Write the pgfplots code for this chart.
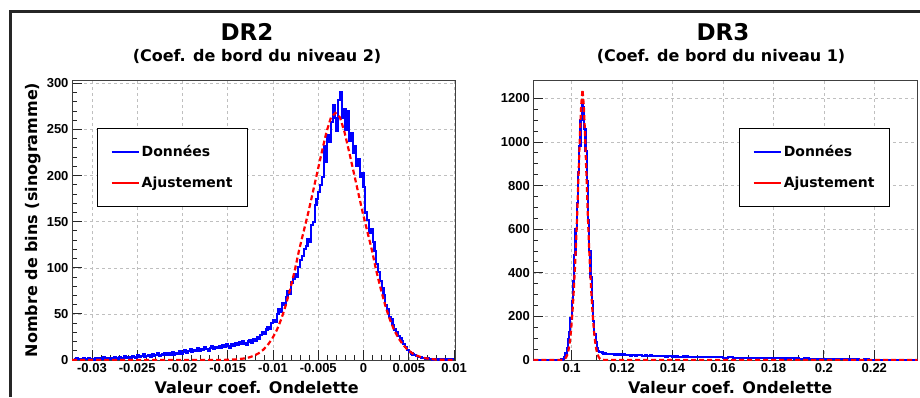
\documentclass[border=0pt]{standalone}
\usepackage{pgfplots}
\pgfplotsset{compat=1.18}
\usepackage{fontspec}
\setmainfont{DejaVu Sans}
\newfontfamily\arialfont{Liberation Sans}

\newcommand\ticksfont{\arialfont\bfseries\fontsize{13}{13}\selectfont}
\newcommand\labfont{\bfseries\fontsize{16}{16}\selectfont}
\newcommand\legfont{\bfseries\fontsize{14}{14}\selectfont}

\pgfplotsset{
  rootaxis/.style={
    scale only axis,
    anchor=south west,
    ymin=0,
    scaled ticks=false,
    axis line style={black!75, line width=0.8pt},
    tick style={black!85, line width=0.8pt},
    tick align=inside,
    xtick pos=bottom, ytick pos=left,
    major tick length=10pt, minor tick length=5pt,
    grid=major,
    major grid style={black!25, line width=0.5pt, dash pattern=on 3pt off 3pt},
    ticklabel style={font=\ticksfont},
    xlabel style={font=\labfont},
    ylabel style={font=\labfont},
    legend cell align=left,
    legend style={draw=black, line width=1.2pt, font=\legfont,
      inner xsep=13pt, inner ysep=15pt, row sep=15pt, anchor=north west},
    legend image code/.code={\draw[#1, line width=2.2pt, solid] (0pt,0pt) -- (27pt,0pt);},
  },
  data/.style={const plot, blue, line width=2.2pt},
  fit/.style={red, line width=2.2pt, dash pattern=on 5pt off 3pt},
}

\begin{document}
\begin{tikzpicture}
\useasboundingbox (0pt,0pt) rectangle (920pt,397pt);
\draw[line width=3pt, black!85] (10.5pt,0pt) -- (10.5pt,385.5pt) -- (920pt,385.5pt);

\node[font=\bfseries\fontsize{23}{23}\selectfont] at (247pt,365pt) {DR2};
\node[font=\bfseries\fontsize{16}{16}\selectfont] at (257pt,341pt) {(Coef. de bord du niveau 2)};
\node[font=\bfseries\fontsize{23}{23}\selectfont] at (723pt,365pt) {DR3};
\node[font=\bfseries\fontsize{16}{16}\selectfont] at (721pt,341pt) {(Coef. de bord du niveau 1)};

% ---- DR2 ----
\begin{axis}[rootaxis,
  at={(72pt,37pt)}, width=383pt, height=280pt,
  xmin=-0.0322, xmax=0.0101, ymax=303.6,
  xtick={-0.03,-0.025,-0.02,-0.015,-0.01,-0.005,0,0.005,0.01},
  xticklabels={-0.03,-0.025,-0.02,-0.015,-0.01,-0.005,0,0.005,0.01},
  ytick={0,50,100,150,200,250,300},
  yticklabels={0,50,100,150,200,250,300},
  minor x tick num=4, minor y tick num=4,
  xlabel={Valeur coef. Ondelette},
  ylabel={Nombre de bins (sinogramme)},
  xlabel style={at={(axis description cs:0.482,-0.1)}, anchor=center},
  ylabel style={at={(axis description cs:-0.102,0.5)}, anchor=center},
  legend style={at={(0.065,0.829)}},
]
\addplot[data] coordinates {
(-0.0320,1) (-0.0318,2) (-0.0316,1) (-0.0314,1) (-0.0312,0) (-0.0310,2) (-0.0308,1) (-0.0306,1) (-0.0304,2) (-0.0302,1)
(-0.0300,1) (-0.0298,0) (-0.0296,2) (-0.0294,1) (-0.0292,2) (-0.0290,1) (-0.0288,3) (-0.0286,1) (-0.0284,2) (-0.0282,1)
(-0.0280,2) (-0.0278,1) (-0.0276,3) (-0.0274,2) (-0.0272,1) (-0.0270,3) (-0.0268,2) (-0.0266,2) (-0.0264,4) (-0.0262,2)
(-0.0260,3) (-0.0258,2) (-0.0256,4) (-0.0254,3) (-0.0252,2) (-0.0250,5) (-0.0248,3) (-0.0246,4) (-0.0244,6) (-0.0242,3)
(-0.0240,4) (-0.0238,5) (-0.0236,3) (-0.0234,6) (-0.0232,4) (-0.0230,5) (-0.0228,7) (-0.0226,4) (-0.0224,5) (-0.0222,6)
(-0.0220,8) (-0.0218,5) (-0.0216,7) (-0.0214,6) (-0.0212,9) (-0.0210,6) (-0.0208,8) (-0.0206,7) (-0.0204,10) (-0.0202,7)
(-0.0200,9) (-0.0198,11) (-0.0196,8) (-0.0194,10) (-0.0192,12) (-0.0190,9) (-0.0188,11) (-0.0186,10) (-0.0184,13) (-0.0182,10)
(-0.0180,12) (-0.0178,11) (-0.0176,14) (-0.0174,12) (-0.0172,10) (-0.0170,13) (-0.0168,15) (-0.0166,12) (-0.0164,14) (-0.0162,13)
(-0.0160,15) (-0.0158,13) (-0.0156,16) (-0.0154,14) (-0.0152,17) (-0.0150,15) (-0.0148,13) (-0.0146,17) (-0.0144,15) (-0.0142,18)
(-0.0140,16) (-0.0138,19) (-0.0136,17) (-0.0134,20) (-0.0132,18) (-0.0130,16) (-0.0128,20) (-0.0126,22) (-0.0124,19) (-0.0122,23)
(-0.0120,21) (-0.0118,25) (-0.0116,23) (-0.0114,27) (-0.0112,30) (-0.0110,28) (-0.0108,33) (-0.0106,36) (-0.0104,34) (-0.0102,40)
(-0.0100,43) (-0.0098,41) (-0.0096,50) (-0.0094,55) (-0.0092,52) (-0.0090,62) (-0.0088,60) (-0.0086,68) (-0.0084,75) (-0.0082,72)
(-0.0080,84) (-0.0078,88) (-0.0076,93) (-0.0074,90) (-0.0072,101) (-0.0070,108) (-0.0068,113) (-0.0066,120) (-0.0064,124) (-0.0062,131)
(-0.0060,128) (-0.0058,146) (-0.0056,150) (-0.0054,168) (-0.0052,175) (-0.0050,182) (-0.0048,190) (-0.0046,198) (-0.0044,232) (-0.0042,215)
(-0.0040,244) (-0.0038,236) (-0.0036,258) (-0.0034,276) (-0.0032,262) (-0.0030,248) (-0.0028,282) (-0.0026,290) (-0.0024,263) (-0.0022,272)
(-0.0020,250) (-0.0018,270) (-0.0016,238) (-0.0014,246) (-0.0012,225) (-0.0010,232) (-0.0008,210) (-0.0006,218) (-0.0004,198) (-0.0002,203)
(0.0000,188) (0.0002,160) (0.0004,152) (0.0006,138) (0.0008,142) (0.0010,128) (0.0012,118) (0.0014,104) (0.0016,95) (0.0018,86)
(0.0020,78) (0.0022,70) (0.0024,60) (0.0026,55) (0.0028,47) (0.0030,44) (0.0032,38) (0.0034,33) (0.0036,30) (0.0038,26)
(0.0040,24) (0.0042,20) (0.0044,17) (0.0046,14) (0.0048,11) (0.0050,9) (0.0052,7) (0.0054,6) (0.0056,5) (0.0058,4)
(0.0060,3) (0.0062,3) (0.0064,2) (0.0066,2) (0.0068,1) (0.0070,2) (0.0072,1) (0.0074,1) (0.0076,0) (0.0078,1)
(0.0080,1) (0.0082,0) (0.0084,1) (0.0086,1) (0.0088,0) (0.0090,1) (0.0092,0) (0.0094,1) (0.0096,0) (0.0098,1) (0.0100,1)
};
\addlegendentry{Données}
\addplot[fit] coordinates {
(-0.0322,0) (-0.0200,0) (-0.0161,0.05) (-0.0151,0.2) (-0.0141,0.6) (-0.0131,1.8) (-0.0126,2.9) (-0.0121,4.7)
(-0.0116,7.2) (-0.0111,10.9) (-0.0106,16) (-0.0101,23) (-0.0096,32) (-0.0091,44) (-0.0086,59) (-0.0081,77)
(-0.0076,97) (-0.0071,120) (-0.0066,140) (-0.0061,160) (-0.0056,182) (-0.0051,204) (-0.0046,226) (-0.0041,247)
(-0.0036,263) (-0.0031,268) (-0.0026,263) (-0.0021,247) (-0.0016,226) (-0.0011,204) (-0.0006,182) (-0.0001,160)
(0.0004,140) (0.0009,120) (0.0014,97) (0.0019,77) (0.0024,59) (0.0029,44) (0.0034,32) (0.0039,23)
(0.0044,16) (0.0049,10.9) (0.0054,7.2) (0.0059,4.7) (0.0064,2.9) (0.0069,1.8) (0.0079,0.6) (0.0089,0.2) (0.0101,0.05)
};
\addlegendentry{Ajustement}
\end{axis}

% ---- DR3 ----
\begin{axis}[rootaxis,
  at={(533.3pt,37pt)}, width=384.4pt, height=280pt,
  xmin=0.0848, xmax=0.2372, ymax=1284,
  xtick={0.1,0.12,0.14,0.16,0.18,0.2,0.22},
  xticklabels={0.1,0.12,0.14,0.16,0.18,0.2,0.22},
  ytick={0,200,400,600,800,1000,1200},
  yticklabels={0,200,400,600,800,1000,1200},
  minor x tick num=1, minor y tick num=3,
  xlabel={Valeur coef. Ondelette},
  xlabel style={at={(axis description cs:0.512,-0.1)}, anchor=center},
  legend style={at={(0.535,0.829)}},
]
\addplot[data] coordinates {
(0.0848,0) (0.0930,1) (0.0940,0) (0.0950,1) (0.0955,1)
(0.0960,2) (0.0965,5) (0.0970,15) (0.0975,30) (0.0980,55) (0.0985,95) (0.0990,130) (0.0995,190)
(0.1000,270) (0.1005,360) (0.1010,480) (0.1015,600) (0.1020,720) (0.1025,860) (0.1030,980) (0.1035,1100)
(0.1040,1190) (0.1045,1160) (0.1050,1060) (0.1055,960) (0.1060,820) (0.1065,640) (0.1070,500) (0.1075,380)
(0.1080,270) (0.1085,180) (0.1090,120) (0.1095,80) (0.1100,55) (0.1105,42) (0.1110,38) (0.1115,35)
(0.1120,34) (0.1125,30) (0.1130,31) (0.1135,28)
(0.114,27) (0.115,29) (0.116,26) (0.117,25) (0.118,27) (0.119,24) (0.120,25) (0.121,22) (0.122,24) (0.123,21)
(0.124,23) (0.125,20) (0.126,22) (0.127,24) (0.128,20) (0.129,21) (0.130,19) (0.131,21) (0.132,18) (0.133,20)
(0.134,17) (0.135,19) (0.136,18) (0.137,16) (0.138,19) (0.139,17)
(0.140,16) (0.142,15) (0.144,16) (0.146,14) (0.148,15) (0.150,13) (0.152,14) (0.154,12) (0.156,13) (0.158,12)
(0.160,11) (0.162,12) (0.164,10) (0.166,11) (0.168,10) (0.170,9) (0.172,10) (0.174,9) (0.176,8) (0.178,9)
(0.180,10) (0.182,8) (0.184,7) (0.186,8) (0.188,7) (0.190,6) (0.192,7) (0.194,5) (0.196,6) (0.198,5)
(0.200,4) (0.202,4) (0.204,3) (0.206,3) (0.208,2) (0.210,2) (0.212,2) (0.214,1) (0.216,2) (0.218,1)
(0.220,1) (0.222,1) (0.224,1) (0.226,0) (0.228,1) (0.230,0) (0.232,1) (0.234,0) (0.236,0) (0.2372,0)
};
\addlegendentry{Données}
\addplot[fit] coordinates {
(0.0848,0) (0.0953,0) (0.0963,1) (0.0973,5) (0.0978,12) (0.0983,25) (0.0988,48) (0.0993,85) (0.0998,140)
(0.1003,215) (0.1008,310) (0.1013,420) (0.1018,550) (0.1023,700) (0.1028,870) (0.1033,1040) (0.1038,1170)
(0.1043,1240) (0.1048,1170) (0.1053,1040) (0.1058,870) (0.1063,700) (0.1068,550) (0.1073,420) (0.1078,310)
(0.1083,215) (0.1088,140) (0.1093,85) (0.1098,48) (0.1103,25) (0.1108,12) (0.1113,5) (0.1123,1) (0.1133,0) (0.2372,0)
};
\addlegendentry{Ajustement}
\end{axis}
\end{tikzpicture}
\end{document}
